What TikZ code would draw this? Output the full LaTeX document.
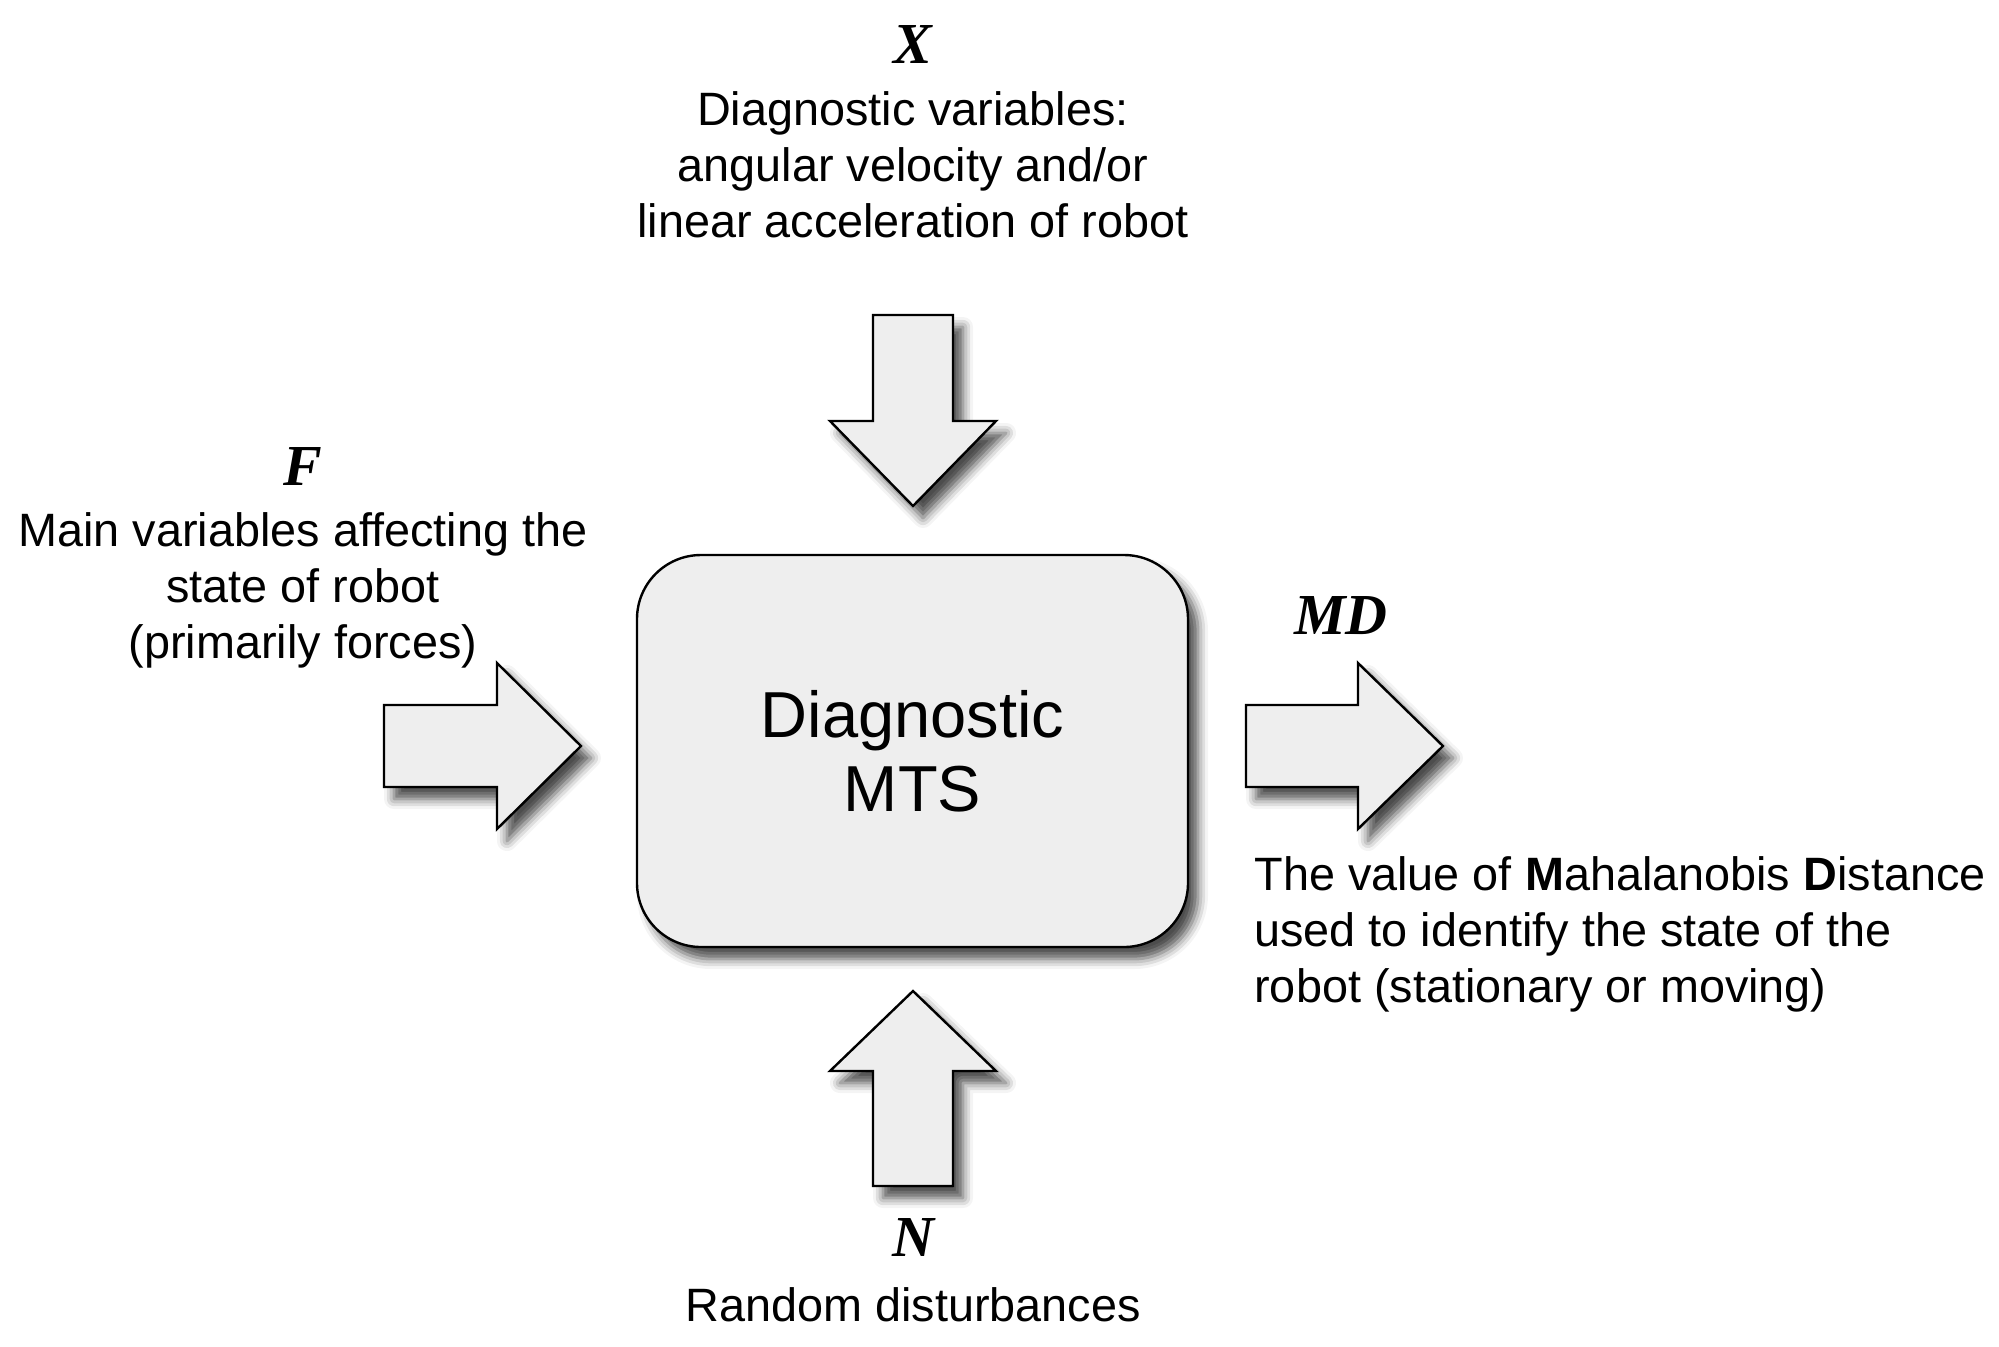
\documentclass[tikz,border=0pt]{standalone}
\usepackage{fontspec}
\setmainfont{Liberation Sans}
\newfontfamily\lblfont{Liberation Serif}
\usetikzlibrary{shadows.blur}
\definecolor{boxfill}{HTML}{EEEEEE}
\begin{document}
\begin{tikzpicture}[x=0.5pt,y=-0.5pt]
\useasboundingbox (0,0) rectangle (1999,1346);
\tikzset{
  sh/.style={blur shadow={shadow xshift=5pt, shadow yshift=-6pt, shadow blur radius=5pt, shadow opacity=70}},
  bigarrow/.style={draw=black, line width=1.2pt, fill=boxfill, sh},
  txt/.style={font=\fontsize{23.4}{28}\selectfont, align=center, inner sep=0pt},
  var/.style={font=\lblfont\bfseries\itshape\fontsize{29}{29}\selectfont, inner sep=0pt}
}
% central block
\node[draw=black, line width=1.2pt, rounded corners=32pt, fill=boxfill,
      minimum width=275.5pt, minimum height=196pt, sh,
      font=\fontsize{32.5}{37}\selectfont, align=center] (mts) at (912.5,751) {Diagnostic\\MTS};

% block arrows
\draw[bigarrow] (873,315) -- (953,315) -- (953,421) -- (996,421) -- (913,506) -- (830,421) -- (873,421) -- cycle;
\draw[bigarrow] (913,991) -- (996,1071) -- (953,1071) -- (953,1186) -- (873,1186) -- (873,1071) -- (830,1071) -- cycle;
\draw[bigarrow] (384,705) -- (497,705) -- (497,663) -- (581,746) -- (497,829) -- (497,787) -- (384,787) -- cycle;
\draw[bigarrow] (1246,705) -- (1358,705) -- (1358,663) -- (1443,746) -- (1358,829) -- (1358,787) -- (1246,787) -- cycle;

% labels
\node[var] (lx) at (913,45) {X};
\node[txt] (tx) at (913,165) {Diagnostic variables:\\angular velocity and/or\\linear acceleration of robot};

\node[var] (lf) at (303,466) {F};
\node[txt] (tf) at (303,590) {Main variables affecting the\\state of robot\\(primarily forces)};

\node[var] (lmd) at (1341,616) {MD};
\node[txt, align=left, anchor=west] (tmd) at (1254,934) {The value of \textbf{M}ahalanobis \textbf{D}istance\\used to identify the state of the\\robot (stationary or moving)};

\node[var] (ln) at (913,1237) {N};
\node[txt] (tn) at (913,1305) {Random disturbances};
\end{tikzpicture}
\end{document}
